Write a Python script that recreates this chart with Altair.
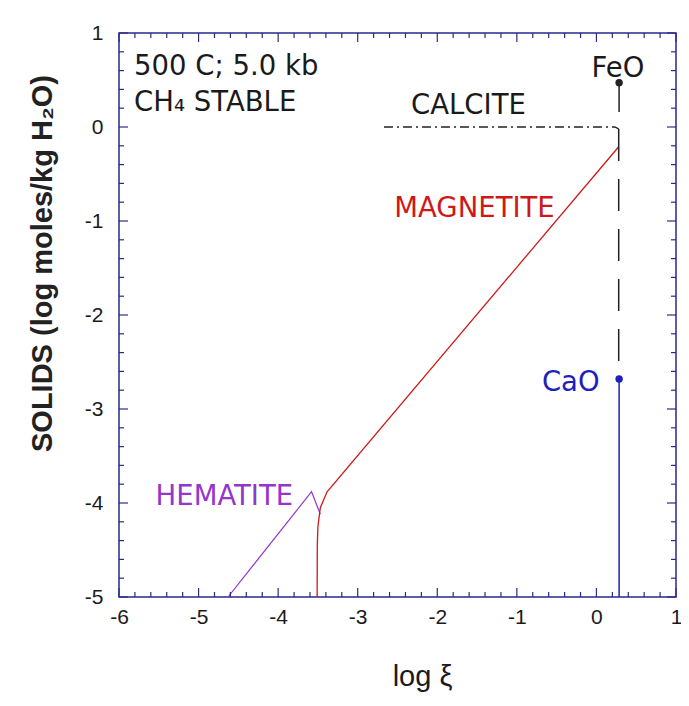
import altair as alt
import pandas as pd

# ---- data ----
hem_x = [-4.63, -3.58, -3.47]
hem_y = [-5.0, -3.88, -4.12]

mag_x = [-3.51, -3.508, -3.50, -3.47, -3.385, 0.28]
mag_y = [-5.0, -4.45, -4.25, -4.05, -3.88, -0.21]

cal_x = [-2.67, 0.23, 0.28]
cal_y = [0.0, 0.0, -0.02]

dash_x = [0.28, 0.28]
dash_y = [-0.02, -2.56]

feo_x = [0.285, 0.285]
feo_y = [0.47, 0.16]

cao_x = [0.285, 0.285]
cao_y = [-2.68, -5.0]

dot_x = [0.285, 0.285]
dot_y = [0.47, -2.68]
dot_c = ["FeO", "CaO"]

x_major = [-6, -5, -4, -3, -2, -1, 0, 1]
y_major = [-5, -4, -3, -2, -1, 0, 1]
x_minor = [round(-6 + 0.2 * i, 1) for i in range(36) if i % 5 != 0]
y_minor = [round(-5 + 0.2 * i, 1) for i in range(31) if i % 5 != 0]

labels_txt = ["500 C; 5.0 kb", "CH\u2084 STABLE", "CALCITE", "MAGNETITE", "HEMATITE"]
labels_x = [-5.81, -5.81, -2.33, -2.54, -5.54]
labels_y = [0.55, 0.17, 0.14, -0.96, -4.02]
labels_col = ["#1a1a1a", "#1a1a1a", "#1a1a1a", "#d01818", "#9435cc"]

W, H = 557, 564
NAVY = "#2a2a8c"
RED = "#d01818"
PURPLE = "#9435cc"
BLUE = "#1f1fbf"
BLACK = "#222222"
MAJ, MIN = 9, 5

xs = alt.Scale(domain=[-6, 1], nice=False, zero=False)
ys = alt.Scale(domain=[-5, 1], nice=False, zero=False)

base_x_axis = alt.Axis(orient="bottom", values=x_major, ticks=False, domain=False, grid=False,
                       labelExpr="'' + datum.value", labelFlush=False,
                       labelFont="Liberation Sans", labelFontSize=21, labelColor="#1a1a1a",
                       labelPadding=9, title="log \u03be", titleFont="Liberation Sans",
                       titleFontSize=29, titleFontWeight="normal", titleColor="#1a1a1a",
                       titleX=303, titleY=88, titleBaseline="alphabetic", titleAlign="center")
base_y_axis = alt.Axis(orient="left", values=y_major, ticks=False, domain=False, grid=False,
                       labelExpr="'' + datum.value", labelFlush=False,
                       labelFont="Liberation Sans", labelFontSize=21, labelColor="#1a1a1a",
                       labelPadding=16, title="SOLIDS (log moles/kg H\u2082O)",
                       titleFont="Liberation Sans", titleFontSize=29, titleFontWeight="bold",
                       titleColor="#222222", titleX=-77, titleY=230, titleAngle=-90,
                       titleAlign="center", titleBaseline="middle")


def df(x, y):
    return pd.DataFrame({"x": x, "y": y})


def X():
    return alt.X("x:Q", scale=xs, axis=base_x_axis)


def Y():
    return alt.Y("y:Q", scale=ys, axis=base_y_axis)


hem = alt.Chart(df(hem_x, hem_y)).mark_line(color=PURPLE, strokeWidth=1.2).encode(x=X(), y=Y())

mag = alt.Chart(df(mag_x, mag_y)).mark_line(color=RED, strokeWidth=1.3).encode(x=X(), y=Y())

cal = alt.Chart(df(cal_x, cal_y)).mark_line(color=BLACK, strokeWidth=1.3,
                                            strokeDash=[9, 4, 2, 4]).encode(x=X(), y=Y())

dash = alt.Chart(df(dash_x, dash_y)).mark_line(color=BLACK, strokeWidth=1.5,
                                               strokeDash=[32, 18]).encode(x=X(), y=Y())

feo = alt.Chart(df(feo_x, feo_y)).mark_line(color=BLACK, strokeWidth=1.5).encode(x=X(), y=Y())

cao = alt.Chart(df(cao_x, cao_y)).mark_line(color=BLUE, strokeWidth=1.5).encode(x=X(), y=Y())

dots = alt.Chart(pd.DataFrame({"x": dot_x, "y": dot_y, "c": dot_c})).mark_circle(
    size=55, opacity=1).encode(
    x=X(), y=Y(),
    color=alt.Color("c:N", scale=alt.Scale(domain=["FeO", "CaO"], range=[BLACK, BLUE]),
                    legend=None),
)

ann = alt.Chart(pd.DataFrame({"x": labels_x, "y": labels_y, "t": labels_txt,
                              "c": labels_col})).mark_text(
    align="left", baseline="alphabetic", font="DejaVu Sans", fontSize=27.5).encode(
    x=X(), y=Y(), text="t:N", color=alt.Color("c:N", scale=None),
)

feo_lbl = alt.Chart(pd.DataFrame({"x": [0.27], "y": [0.53], "t": ["FeO"]})).mark_text(
    align="center", baseline="alphabetic", font="DejaVu Sans", fontSize=27.5,
    color="#1a1a1a").encode(x=X(), y=Y(), text="t:N")

cao_lbl = alt.Chart(pd.DataFrame({"x": [0.04], "y": [-2.81], "t": ["CaO"]})).mark_text(
    align="right", baseline="alphabetic", font="DejaVu Sans", fontSize=27.5,
    color=BLUE).encode(x=X(), y=Y(), text="t:N")


# ---- inward ticks on all four sides ----
def xticks(vals, size):
    d = pd.DataFrame({"x": vals})
    bottom = alt.Chart(d).mark_rule(color=NAVY, strokeWidth=1.2).encode(
        x=X(), y=alt.value(H), y2=alt.value(H - size))
    top = alt.Chart(d).mark_rule(color=NAVY, strokeWidth=1.2).encode(
        x=X(), y=alt.value(0), y2=alt.value(size))
    return [bottom, top]


def yticks(vals, size):
    d = pd.DataFrame({"y": vals})
    left = alt.Chart(d).mark_rule(color=NAVY, strokeWidth=1.2).encode(
        y=Y(), x=alt.value(0), x2=alt.value(size))
    right = alt.Chart(d).mark_rule(color=NAVY, strokeWidth=1.2).encode(
        y=Y(), x=alt.value(W), x2=alt.value(W - size))
    return [left, right]


ticks = xticks(x_major, MAJ) + xticks(x_minor, MIN) + yticks(y_major, MAJ) + yticks(y_minor, MIN)

chart = alt.layer(hem, mag, cal, dash, feo, cao, dots, ann, feo_lbl, cao_lbl, *ticks).properties(
    width=W, height=H,
    autosize=alt.AutoSizeParams(type="none"),
    padding={"left": 111, "top": 25, "right": 5, "bottom": 100},
    background="white",
).configure_view(stroke=NAVY, strokeWidth=1.5)

chart.save("out.html", embed_options={"renderer": "svg", "actions": False})
